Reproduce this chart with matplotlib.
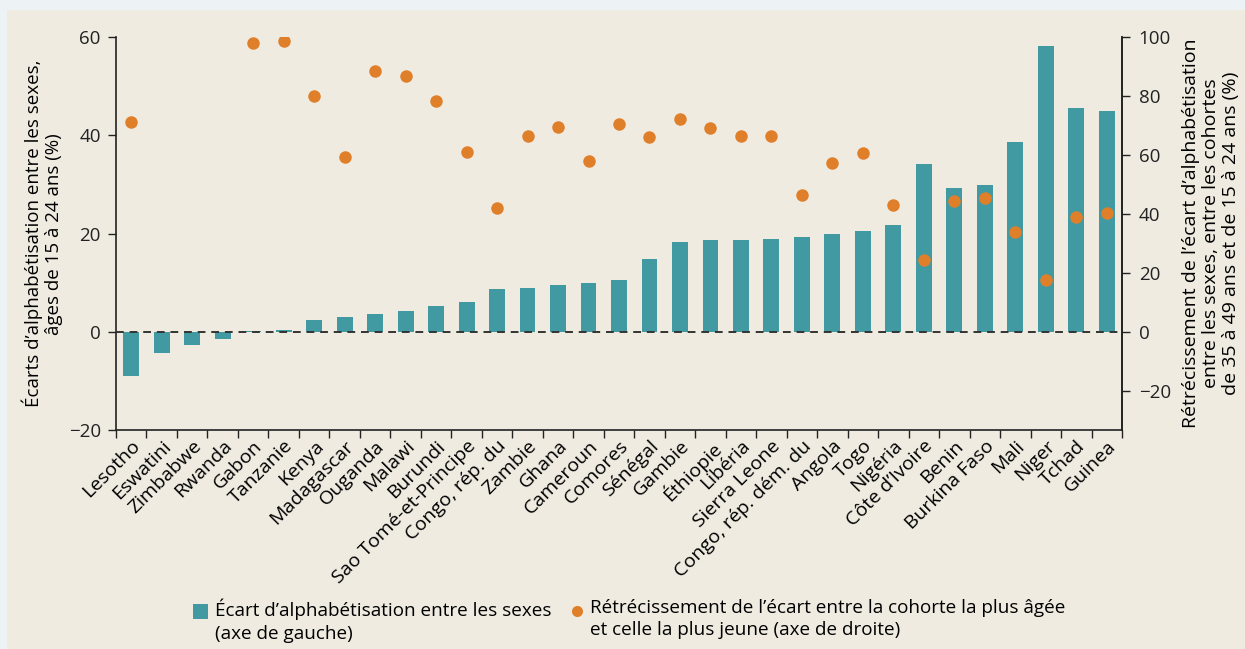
import numpy as np
import matplotlib
matplotlib.use("Agg")
import matplotlib.pyplot as plt
from matplotlib.patches import Rectangle
from matplotlib.lines import Line2D
from matplotlib.ticker import FixedLocator, NullFormatter

plt.rcParams['font.family'] = ['Open Sans', 'DejaVu Sans']
plt.rcParams['axes.unicode_minus'] = True

countries = [
    "Lesotho", "Eswatini", "Zimbabwe", "Rwanda", "Gabon", "Tanzanie", "Kenya",
    "Madagascar", "Ouganda", "Malawi", "Burundi", "Sao Tomé-et-Principe",
    "Congo, rép. du", "Zambie", "Ghana", "Cameroun", "Comores", "Sénégal",
    "Gambie", "Éthiopie", "Libéria", "Sierra Leone", "Congo, rép. dém. du",
    "Angola", "Togo", "Nigéria", "Côte d’Ivoire", "Benin", "Burkina Faso",
    "Mali", "Niger", "Tchad", "Guinea",
]

# écart d'alphabétisation entre les sexes, 15-24 ans (axe de gauche)
gap = [
    -9.0, -4.3, -2.7, -1.5, 0.1, 0.4, 2.4, 3.0, 3.6, 4.2, 5.2, 6.0,
    8.7, 8.9, 9.5, 9.9, 10.5, 14.8, 18.3, 18.7, 18.7, 18.9, 19.3,
    19.9, 20.5, 21.7, 34.2, 29.3, 29.9, 38.7, 58.2, 45.6, 45.0,
]

# rétrécissement de l'écart entre cohortes (axe de droite)
narrowing = [
    71.3, np.nan, np.nan, np.nan, 98.1, 98.6, 80.0, 59.3, 88.7, 86.9, 78.4, 61.0,
    42.2, 66.6, 69.6, 58.0, 70.5, 66.0, 72.4, 69.1, 66.4, 66.4, 46.3,
    57.3, 60.8, 42.9, 24.4, 44.4, 45.6, 33.8, 17.6, 39.0, 40.4,
]

legend_labels = [
    "Écart d’alphabétisation entre les sexes\n(axe de gauche)",
    "Rétrécissement de l’écart entre la cohorte la plus âgée\net celle la plus jeune (axe de droite)",
]

teal = "#419aa2"
orange = "#e07f2a"
panel_bg = "#efebe1"
outer_bg = "#edf3f5"
ink = "#222222"

W, H = 1245, 649
fig = plt.figure(figsize=(W / 100, H / 100), dpi=100, facecolor=outer_bg)
fig.patches.append(Rectangle((7 / W, 0), 1, 1 - 10 / H, transform=fig.transFigure,
                             facecolor=panel_bg, edgecolor="none", zorder=-10))

ax = fig.add_axes([116 / W, 1 - 430 / H, (1122 - 116) / W, (430 - 37.3) / H])
ax.set_facecolor("none")
x = np.arange(len(countries))

ax.bar(x, gap, width=0.52, color=teal, zorder=2)
ax.axhline(0, color="#333333", lw=1.4, ls=(0, (4, 3)), zorder=3)

ax.set_xlim(-0.5, len(countries) - 0.5)
ax.set_ylim(-20, 60)
ax.set_yticks([-20, 0, 20, 40, 60])
ax.tick_params(axis="y", labelsize=13.5, length=6, width=1, pad=5, colors=ink)
ax.set_ylabel("Écarts d’alphabétisation entre les sexes,\nâges de 15 à 24 ans (%)",
              fontsize=13.5, labelpad=4, linespacing=1.15)

ax.set_xticks(x)
ax.set_xticklabels(countries, rotation=45, ha="right", rotation_mode="anchor", fontsize=14)
ax.tick_params(axis="x", which="major", length=0, pad=5)
ax.xaxis.set_minor_locator(FixedLocator(np.arange(-0.5, len(countries), 1.0)))
ax.xaxis.set_minor_formatter(NullFormatter())
ax.tick_params(axis="x", which="minor", length=6, width=1, color=ink)

ax.spines["top"].set_visible(False)
for s in ["left", "bottom", "right"]:
    ax.spines[s].set_color(ink)
    ax.spines[s].set_linewidth(1.2)

ax2 = ax.twinx()
ax2.plot(x, narrowing, "o", color=orange, ms=9, mec="none", zorder=4)
ax2.set_ylim(-100 / 3, 100)
ax2.set_yticks([-20, 0, 20, 40, 60, 80, 100])
ax2.tick_params(axis="y", labelsize=13.5, length=6, width=1, pad=6, colors=ink)
for s in ["top", "left", "bottom"]:
    ax2.spines[s].set_visible(False)
ax2.spines["right"].set_color(ink)
ax2.spines["right"].set_linewidth(1.2)
ax2.set_ylabel("Rétrécissement de l’écart d’alphabétisation\nentre les sexes, entre les cohortes\n"
               "de 35 à 49 ans et de 15 à 24 ans (%)",
               fontsize=14, labelpad=8, linespacing=1.15)

# légende dessinée à la main : symbole aligné sur la première ligne
fig.add_artist(Rectangle((193 / W, 1 - 619 / H), 15 / W, 15 / H, transform=fig.transFigure,
                         facecolor=teal, edgecolor="none"))
fig.text(215 / W, 1 - 599 / H, legend_labels[0], fontsize=13.6, va="top", ha="left",
         linespacing=1.3)
fig.add_artist(Line2D([577 / W], [1 - 611 / H], transform=fig.transFigure, marker="o",
                      color=orange, ms=8, mec="none", ls="none"))
fig.text(590 / W, 1 - 599 / H, legend_labels[1], fontsize=13.6, va="top", ha="left",
         linespacing=1.3)

fig.savefig("out.png", dpi=100, facecolor=outer_bg)
